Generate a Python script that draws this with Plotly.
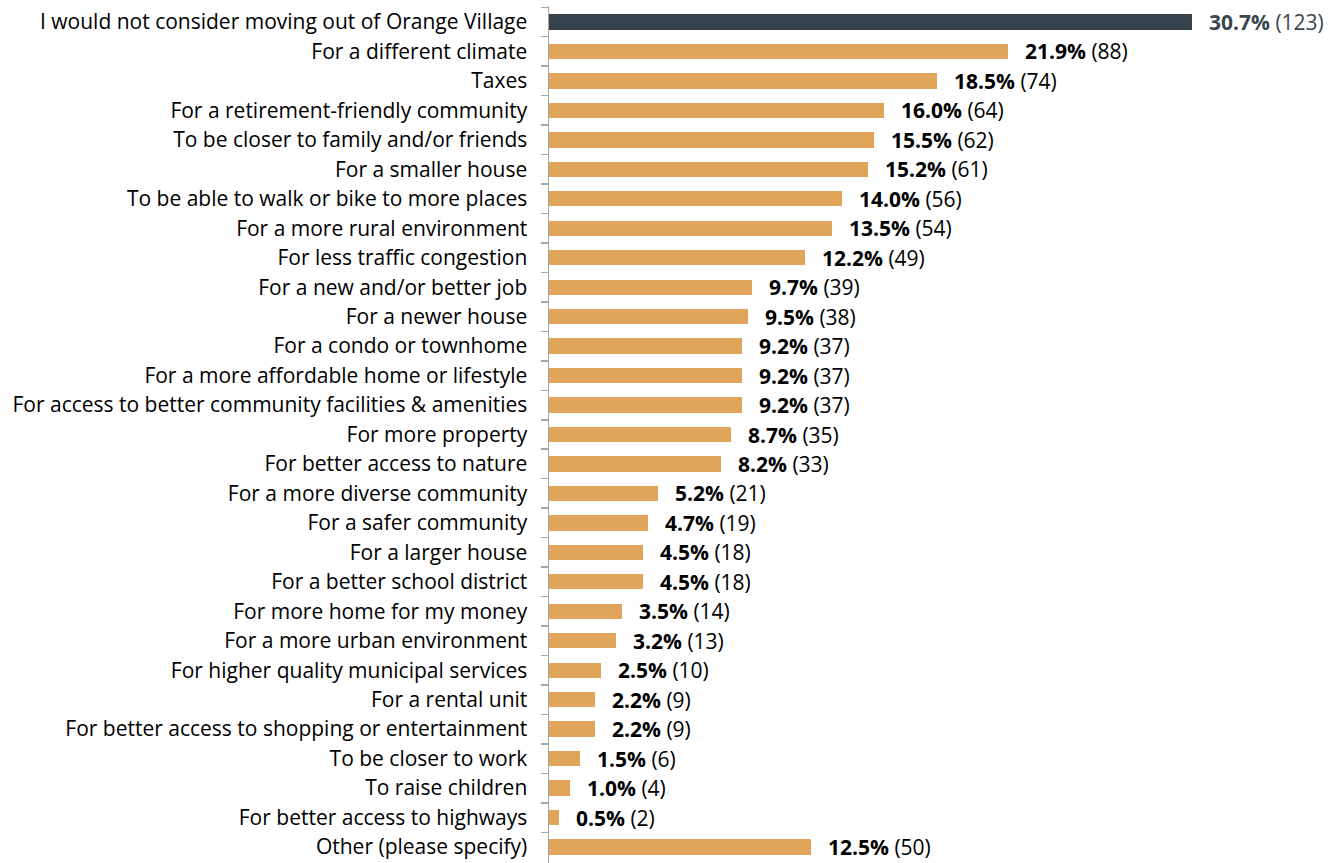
import plotly.graph_objects as go

categories = [
    "I would not consider moving out of Orange Village",
    "For a different climate",
    "Taxes",
    "For a retirement-friendly community",
    "To be closer to family and/or friends",
    "For a smaller house",
    "To be able to walk or bike to more places",
    "For a more rural environment",
    "For less traffic congestion",
    "For a new and/or better job",
    "For a newer house",
    "For a condo or townhome",
    "For a more affordable home or lifestyle",
    "For access to better community facilities & amenities",
    "For more property",
    "For better access to nature",
    "For a more diverse community",
    "For a safer community",
    "For a larger house",
    "For a better school district",
    "For more home for my money",
    "For a more urban environment",
    "For higher quality municipal services",
    "For a rental unit",
    "For better access to shopping or entertainment",
    "To be closer to work",
    "To raise children",
    "For better access to highways",
    "Other (please specify)",
]
percents = [30.7, 21.9, 18.5, 16.0, 15.5, 15.2, 14.0, 13.5, 12.2, 9.7, 9.5, 9.2, 9.2, 9.2,
            8.7, 8.2, 5.2, 4.7, 4.5, 4.5, 3.5, 3.2, 2.5, 2.2, 2.2, 1.5, 1.0, 0.5, 12.5]
counts = [123, 88, 74, 64, 62, 61, 56, 54, 49, 39, 38, 37, 37, 37,
          35, 33, 21, 19, 18, 18, 14, 13, 10, 9, 9, 6, 4, 2, 50]

DARK = "#37444D"
ORANGE = "#E0A55A"
FONT = "Open Sans, Noto Sans, sans-serif"
colors = [DARK] + [ORANGE] * (len(categories) - 1)

fig = go.Figure(go.Bar(
    x=percents, y=categories, orientation="h",
    marker=dict(color=colors, line=dict(width=0)),
    width=0.52, hoverinfo="skip",
))

annotations = []
for i, (c, p, n) in enumerate(zip(categories, percents, counts)):
    col = "#3A4750" if i == 0 else "#000000"
    annotations.append(dict(
        x=p, y=c, xref="x", yref="y", xanchor="left", yanchor="middle",
        xshift=15, showarrow=False,
        text=f"<b>{p:.1f}%</b> ({n})",
        font=dict(family=FONT, size=21, color=col),
    ))

fig.update_layout(
    width=1337, height=863,
    margin=dict(l=549, r=0, t=6, b=0),
    paper_bgcolor="white", plot_bgcolor="white",
    showlegend=False, bargap=0,
    annotations=annotations,
    font=dict(family=FONT, size=21, color="#000000"),
)
fig.update_xaxes(range=[0, 37.6], visible=False, fixedrange=True)
fig.update_yaxes(
    autorange="reversed", showline=True, linecolor="#A6A6A6", linewidth=1.5,
    ticks="outside", tickson="boundaries", ticklen=7, tickcolor="#A6A6A6",
    tickwidth=1.5, ticklabelstandoff=16, showgrid=False, fixedrange=True,
    tickfont=dict(family=FONT, size=21, color="#000000"),
)

fig.write_html(
    "out.html",
    config={"displayModeBar": False, "staticPlot": True},
    post_script="document.body.style.margin='0';document.body.style.overflow='hidden';",
)
